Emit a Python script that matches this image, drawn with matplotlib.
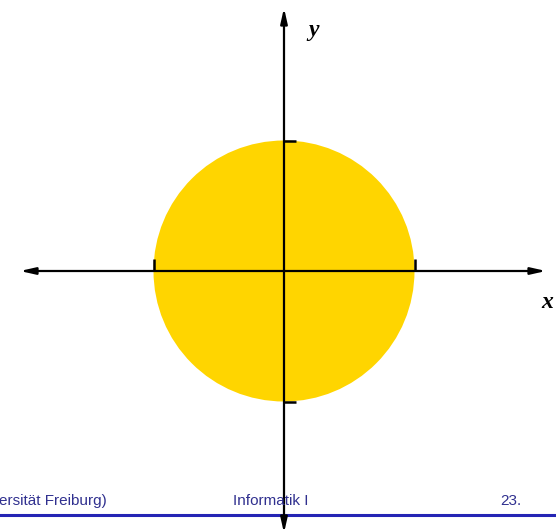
import matplotlib
matplotlib.use("Agg")
import matplotlib.pyplot as plt
from matplotlib.patches import Circle

# data: unit circle, ticks at +-1 on both axes
radius = 1.0
x_ticks = [-1.0, 1.0]
y_ticks = [-1.0, 1.0]
footer_left = "ersität Freiburg)"
footer_mid = "Informatik I"
footer_right = "23."

W, H = 556, 532
cx, cy = 284, 271      # pixel position of the origin
unit = 130.5           # pixels per data unit

fig = plt.figure(figsize=(W / 100, H / 100), dpi=100)
fig.patch.set_facecolor("white")
ax = fig.add_axes([0, 0, 1, 1])
ax.set_xlim(-cx / unit, (W - cx) / unit)
ax.set_ylim(-(H - cy) / unit, cy / unit)
ax.set_aspect("equal")
ax.axis("off")
ax.set_zorder(2)
ax.patch.set_alpha(0)

# footer (drawn under the axes)
blue_txt = "#30308f"
fy = 1 - 501 / H
fig.text(-1 / W, fy, footer_left, ha="left", va="center",
         color=blue_txt, fontsize=11, family="Liberation Sans")
fig.text(271 / W, fy, footer_mid, ha="center", va="center",
         color=blue_txt, fontsize=11, family="Liberation Sans")
fig.text(500 / W, fy, footer_right, ha="left", va="center",
         color=blue_txt, fontsize=11, family="Liberation Sans")
fig.add_artist(plt.Line2D([0, 1], [1 - 515 / H, 1 - 515 / H],
                          color="#2424b4", linewidth=2.2, transform=fig.transFigure, zorder=0))

ax.add_patch(Circle((0, 0), radius, facecolor="#FFD500", edgecolor="none", zorder=1))

arrow = dict(arrowstyle="<|-|>,head_length=0.75,head_width=0.17", color="black",
             lw=1.6, shrinkA=0, shrinkB=0, mutation_scale=12)
x0, x1 = (20 - cx) / unit, (546 - cx) / unit
y0, y1 = -(H + 1 - cy) / unit, (cy - 8) / unit
ax.annotate("", xy=(x1, 0), xytext=(x0, 0), arrowprops=arrow, zorder=3)
ax.annotate("", xy=(0, y1), xytext=(0, y0), arrowprops=arrow, zorder=3)

tk = 12 / unit
for t in x_ticks:
    ax.plot([t, t], [0, tk], color="black", lw=1.8, zorder=3, solid_capstyle="butt")
for t in y_ticks:
    ax.plot([0, tk], [t, t], color="black", lw=1.8, zorder=3, solid_capstyle="butt")

ax.text((314 - cx) / unit, (cy - 30) / unit, "y", ha="center", va="center",
        fontsize=17, family="Liberation Serif", fontweight="bold", style="italic")
ax.text((547 - cx) / unit, (cy - 302) / unit, "x", ha="center", va="center",
        fontsize=17, family="Liberation Serif", fontweight="bold", style="italic")

fig.savefig("out.png", dpi=100)
